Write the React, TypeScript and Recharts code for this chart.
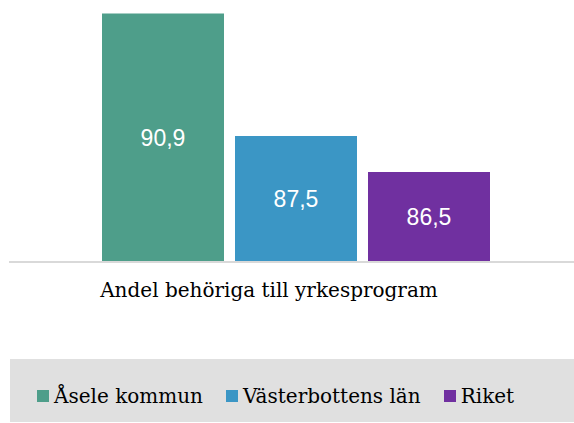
import { BarChart, Bar, XAxis, YAxis, Legend, LabelList } from 'recharts'

const categories = ['Andel behöriga till yrkesprogram']
const seriesNames = ['Åsele kommun', 'Västerbottens län', 'Riket']
const seriesValues = [[90.9], [87.5], [86.5]]
const seriesColors = ['#4e9e8a', '#3b96c5', '#7030a0']

const data = categories.map((cat, i) => {
  const row: any = { name: cat }
  seriesNames.forEach((s, j) => {
    row[s] = seriesValues[j][i]
  })
  return row
})

const fmt = (v: any) => String(v).replace('.', ',')

function CategoryTick({ x, y, payload }: any) {
  return (
    <text x={x - 27} y={y + 27} textAnchor="middle" fontFamily="DejaVu Serif" fontSize={20} fill="#000">
      {payload.value}
    </text>
  )
}

// keep the legend in series order
function LegendBox() {
  return (
    <div style={{
      display: 'flex', alignItems: 'center', height: 63, background: '#e0e0e0',
      paddingLeft: 27, paddingTop: 10, boxSizing: 'border-box', fontFamily: 'DejaVu Serif', fontSize: 20, color: '#000',
    }}>
      {seriesNames.map((s, i) => (
        <div key={s} style={{ display: 'flex', alignItems: 'center', marginRight: 23 }}>
          <span style={{ width: 12, height: 12, background: seriesColors[i], marginRight: 5, display: 'inline-block' }} />
          <span>{s}</span>
        </div>
      ))}
    </div>
  )
}

export default function App() {
  return (
    <div style={{ position: 'absolute', left: 0, top: 0, background: '#fff' }}>
      <BarChart
        width={574}
        height={423}
        data={data}
        margin={{ top: 10, right: 0, left: 9, bottom: 58 }}
        barGap={11}
        barSize={122}
      >
        <XAxis
          dataKey="name"
          tick={<CategoryTick />}
          tickLine={false}
          axisLine={{ stroke: '#d9d9d9', strokeWidth: 2 }}
          height={40}
          padding={{ left: 9, right: 0 }}
        />
        <YAxis hide domain={[84, 91]} allowDataOverflow />
        <Legend
          verticalAlign="bottom"
          content={<LegendBox />}
          wrapperStyle={{ left: 10, top: 359, bottom: 'auto', width: 564, height: 63 }}
        />
        {seriesNames.map((s, i) => (
          <Bar key={s} dataKey={s} fill={seriesColors[i]} isAnimationActive={false}>
            <LabelList
              dataKey={s}
              position="center"
              formatter={fmt}
              fill="#fff"
              fontFamily="Liberation Sans"
              fontSize={23}
            />
          </Bar>
        ))}
      </BarChart>
    </div>
  )
}
